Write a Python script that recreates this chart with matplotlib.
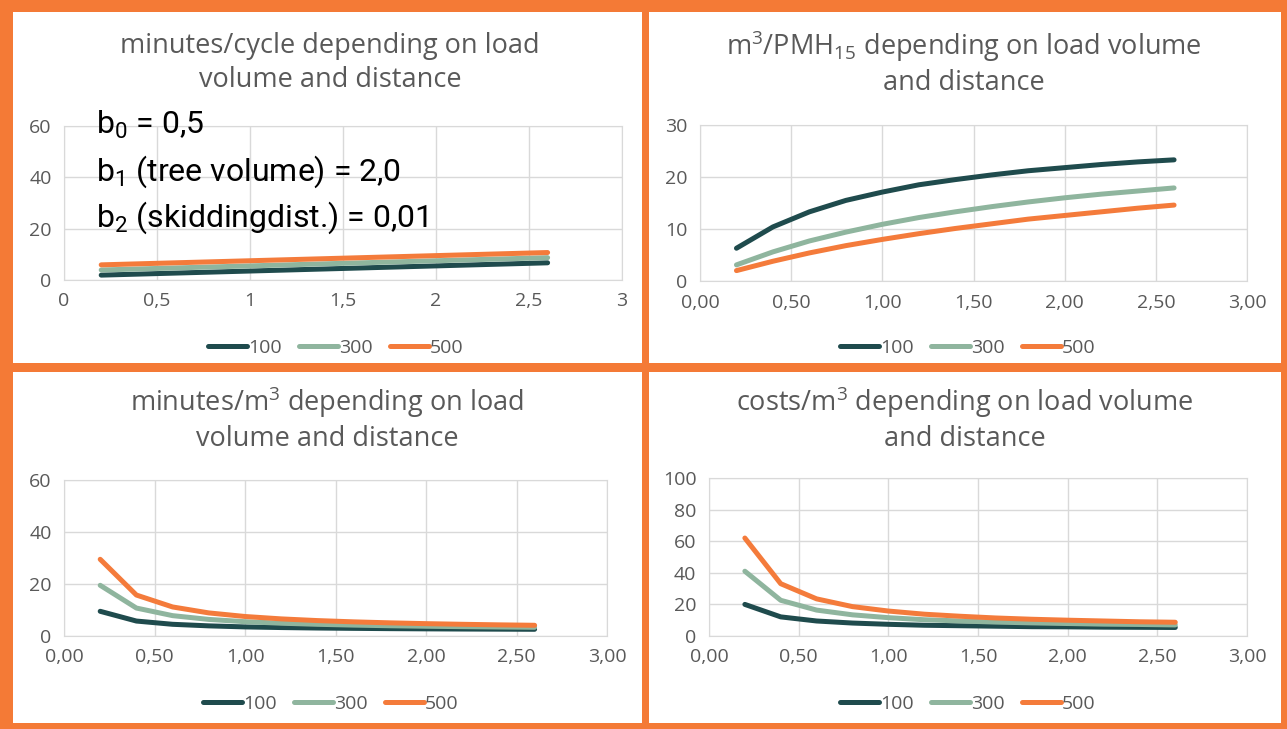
import matplotlib.pyplot as plt
from matplotlib.patches import Rectangle

plt.rcParams['font.family'] = ['Open Sans', 'DejaVu Sans']
plt.rcParams['mathtext.fontset'] = 'custom'
plt.rcParams['mathtext.rm'] = 'Open Sans'
plt.rcParams['mathtext.default'] = 'regular'

# load volume (m3) on the x axis, one series per skidding distance (m)
volume = [0.2, 0.4, 0.6, 0.8, 1.0, 1.2, 1.4, 1.6, 1.8, 2.0, 2.2, 2.4, 2.6]
distances = ['100', '300', '500']

min_cycle_100 = [1.9, 2.3, 2.7, 3.1, 3.5, 3.9, 4.3, 4.7, 5.1, 5.5, 5.9, 6.3, 6.7]
min_cycle_300 = [3.9, 4.3, 4.7, 5.1, 5.5, 5.9, 6.3, 6.7, 7.1, 7.5, 7.9, 8.3, 8.7]
min_cycle_500 = [5.9, 6.3, 6.7, 7.1, 7.5, 7.9, 8.3, 8.7, 9.1, 9.5, 9.9, 10.3, 10.7]

pmh_100 = [6.3, 10.4, 13.3, 15.5, 17.1, 18.5, 19.5, 20.4, 21.2, 21.8, 22.4, 22.9, 23.3]
pmh_300 = [3.1, 5.6, 7.7, 9.4, 10.9, 12.2, 13.3, 14.3, 15.2, 16.0, 16.7, 17.3, 17.9]
pmh_500 = [2.0, 3.8, 5.4, 6.8, 8.0, 9.1, 10.1, 11.0, 11.9, 12.6, 13.3, 14.0, 14.6]

min_m3_100 = [9.5, 5.75, 4.5, 3.9, 3.5, 3.25, 3.07, 2.94, 2.83, 2.75, 2.68, 2.63, 2.58]
min_m3_300 = [19.5, 10.75, 7.83, 6.38, 5.5, 4.92, 4.5, 4.19, 3.94, 3.75, 3.59, 3.46, 3.35]
min_m3_500 = [29.5, 15.75, 11.17, 8.88, 7.5, 6.58, 5.93, 5.44, 5.06, 4.75, 4.5, 4.29, 4.12]

cost_100 = [20.0, 12.1, 9.5, 8.2, 7.4, 6.8, 6.5, 6.2, 5.9, 5.8, 5.6, 5.5, 5.4]
cost_300 = [41.0, 22.6, 16.4, 13.4, 11.6, 10.3, 9.5, 8.8, 8.3, 7.9, 7.5, 7.3, 7.0]
cost_500 = [62.0, 33.1, 23.5, 18.6, 15.8, 13.8, 12.5, 11.4, 10.6, 10.0, 9.5, 9.0, 8.7]

colors = ['#1F4B4D', '#8FB59E', '#F47B3B']
orange = '#F47A36'
grey = '#595959'

W, H = 1287, 729
fig = plt.figure(figsize=(W / 100, H / 100), dpi=100, facecolor=orange)


def px_rect(l, t, r, b):
    return [l / W, 1 - b / H, (r - l) / W, (b - t) / H]


# white panels
for l, t, r, b in [(13, 12, 642, 363), (649, 12, 1281, 363),
                   (13, 372, 642, 723), (649, 372, 1281, 723)]:
    fig.patches.append(Rectangle((l / W, 1 - b / H), (r - l) / W, (b - t) / H,
                                 transform=fig.transFigure, facecolor='white',
                                 edgecolor='none', zorder=-5))

panels = [
    dict(rect=(64, 126, 622, 280), title='minutes/cycle depending on load\nvolume and distance',
         tx=330, ty=63, series=[min_cycle_100, min_cycle_300, min_cycle_500],
         ymax=60, ystep=20, xticks=[0, 0.5, 1, 1.5, 2, 2.5, 3],
         xlabels=['0', '0,5', '1', '1,5', '2', '2,5', '3'], lx=336, ly=348),
    dict(rect=(700, 125, 1247, 281), title='m$^3$/PMH$_{15}$ depending on load volume\nand distance',
         tx=964, ty=63, series=[pmh_100, pmh_300, pmh_500],
         ymax=30, ystep=10, xticks=[0, 0.5, 1, 1.5, 2, 2.5, 3],
         xlabels=['0,00', '0,50', '1,00', '1,50', '2,00', '2,50', '3,00'], lx=968, ly=348),
    dict(rect=(64, 480, 607, 636), title='minutes/m$^3$ depending on load\nvolume and distance',
         tx=327, ty=419, series=[min_m3_100, min_m3_300, min_m3_500],
         ymax=60, ystep=20, xticks=[0, 0.5, 1, 1.5, 2, 2.5, 3],
         xlabels=['0,00', '0,50', '1,00', '1,50', '2,00', '2,50', '3,00'], lx=331, ly=704),
    dict(rect=(709, 478, 1247, 636), title='costs/m$^3$ depending on load volume\nand distance',
         tx=965, ty=419, series=[cost_100, cost_300, cost_500],
         ymax=100, ystep=20, xticks=[0, 0.5, 1, 1.5, 2, 2.5, 3],
         xlabels=['0,00', '0,50', '1,00', '1,50', '2,00', '2,50', '3,00'], lx=968, ly=704),
]

for p in panels:
    ax = fig.add_axes(px_rect(*p['rect']))
    ax.set_facecolor('none')
    for vals, lab, c in zip(p['series'], distances, colors):
        ax.plot(volume, vals, color=c, lw=3.6, label=lab, solid_capstyle='round',
                solid_joinstyle='round')
    ax.set_xlim(0, 3)
    ax.set_ylim(0, p['ymax'])
    ax.set_xticks(p['xticks'])
    ax.set_xticklabels(p['xlabels'])
    ax.set_yticks(range(0, p['ymax'] + 1, p['ystep']))
    ax.grid(True, color='#D9D9D9', lw=1)
    ax.set_axisbelow(True)
    for s in ax.spines.values():
        s.set_color('#D9D9D9')
    ax.tick_params(length=0, colors=grey, labelsize=14, pad=9)
    fig.text(p['tx'] / W, 1 - p['ty'] / H, p['title'], ha='center', va='center',
             fontsize=19.5, color=grey, linespacing=1.25)
    leg = ax.legend(loc='center', bbox_to_anchor=(p['lx'] / W, 1 - p['ly'] / H),
                    bbox_transform=fig.transFigure, ncol=3, frameon=False,
                    handlelength=2.0, handletextpad=0.05, columnspacing=0.9,
                    fontsize=14)
    for t in leg.get_texts():
        t.set_color(grey)

# model parameters written over the first panel
plt.rcParams['mathtext.rm'] = 'Roboto'
params = ['b$_0$ = 0,5', 'b$_1$ (tree volume) = 2,0', 'b$_2$ (skiddingdist.) = 0,01']
for i, s in enumerate(params):
    fig.text(96 / W, 1 - (125 + 46.5 * i) / H, s, ha='left', va='center',
             fontsize=23, color='black', family='Roboto')

fig.savefig('out.png', dpi=100, facecolor=orange)
